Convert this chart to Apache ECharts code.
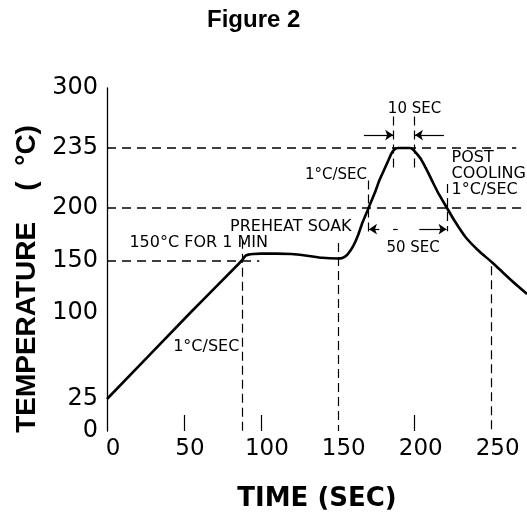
<!DOCTYPE html>
<html>
<head>
<meta charset="utf-8">
<script src="https://cdn.jsdelivr.net/npm/echarts@6/dist/echarts.min.js"></script>
<style>html,body{margin:0;padding:0;background:#fff;}#c{width:527px;height:525px;}</style>
</head>
<body>
<div id="c"></div>
<script>
// ---- data ----
const curveTime = [0, 54, 85, 88, 90, 92, 95, 100, 110, 120, 130, 140, 150, 153, 156, 158, 160, 163, 166, 170, 174, 177, 180, 183, 185, 187, 189, 197, 199, 201, 204, 208, 212, 216, 221, 226, 233, 241, 250, 257, 264, 273];
const curveTemp = [25, 100, 146.4, 151, 155, 156, 156.6, 157, 157, 156.6, 155, 153, 152.4, 152.8, 155.7, 159.4, 164, 173.6, 186, 200, 208.7, 216, 222, 228, 232, 234.3, 235, 235, 234, 232, 228.6, 222, 214.6, 207.6, 200, 187.7, 172.6, 160.4, 149, 139.4, 129.8, 118.3];
const yTickValues = [0, 25, 100, 150, 200, 235, 300];
const xTickValues = [0, 50, 100, 150, 200, 250];
const refTemps = [235, 200, 150];
const refTempEnds = [266, 273, 99];
const refTimes = [88, 150, 250];
const refTimeTops = [170, 167, 145];
const annoText = ['150°C FOR 1 MIN', '1°C/SEC', 'PREHEAT SOAK', '1°C/SEC', '10 SEC', '50 SEC', 'POST\nCOOLING\n1°C/SEC'];
const annoTime = [59.6, 64.5, 119.5, 148.8, 199.9, 199, 224];
const annoTemp = [167, 70.3, 182, 219, 277, 162, 219.8];

// non-linear temperature axis of the original figure: tick value -> axis position
const yTickPos = [0, 32, 118, 170, 223, 283, 343];
function toAxis(v) {
  for (let i = 1; i < yTickValues.length; i++) {
    if (v <= yTickValues[i]) {
      const a = yTickValues[i - 1], b = yTickValues[i];
      return yTickPos[i - 1] + (v - a) / (b - a) * (yTickPos[i] - yTickPos[i - 1]);
    }
  }
  return yTickPos[yTickPos.length - 1];
}

const dash = { type: [9, 6], width: 1.5, color: '#000' };
const vdash = { type: [9, 5], width: 1.2, color: '#000' };
const arrowStyle = { type: 'solid', width: 1.2, color: '#000' };

const markLines = [];
refTemps.forEach((v, i) => {
  markLines.push([{ coord: [0, toAxis(v)], lineStyle: dash }, { coord: [refTempEnds[i], toAxis(v)] }]);
});
refTimes.forEach((t, i) => {
  markLines.push([{ coord: [t, toAxis(refTimeTops[i])], lineStyle: vdash }, { coord: [t, 0] }]);
});
// short dashed markers for 50 SEC and 10 SEC spans
markLines.push([{ coord: [170, toAxis(216)], lineStyle: vdash }, { coord: [170, toAxis(176)] }]);
markLines.push([{ coord: [221, toAxis(214)], lineStyle: vdash }, { coord: [221, toAxis(178)] }]);
markLines.push([{ coord: [186.2, toAxis(269)], lineStyle: vdash }, { coord: [186.2, toAxis(223)] }]);
markLines.push([{ coord: [199.9, toAxis(269)], lineStyle: vdash }, { coord: [199.9, toAxis(223)] }]);
// arrows
markLines.push([{ coord: [167, toAxis(249)], lineStyle: arrowStyle, symbol: 'none' }, { coord: [186, toAxis(249)], symbol: 'arrow' }]);
markLines.push([{ coord: [219, toAxis(249)], lineStyle: arrowStyle, symbol: 'none' }, { coord: [200.2, toAxis(249)], symbol: 'arrow' }]);
markLines.push([{ coord: [177, toAxis(180)], lineStyle: arrowStyle, symbol: 'none' }, { coord: [170.3, toAxis(180)], symbol: 'arrow' }]);
markLines.push([{ coord: [186, toAxis(180)], lineStyle: arrowStyle, symbol: 'none' }, { coord: [189, toAxis(180)], symbol: 'none' }]);
markLines.push([{ coord: [203, toAxis(180)], lineStyle: arrowStyle, symbol: 'none' }, { coord: [220.7, toAxis(180)], symbol: 'arrow' }]);

const markPoints = annoText.map((txt, i) => ({
  coord: [annoTime[i], toAxis(annoTemp[i])],
  label: Object.assign({
    show: true, formatter: txt, position: 'inside', color: '#000',
    fontFamily: 'DejaVu Sans', fontSize: (i === 4 || i === 5 || i === 3) ? 15 : 16, lineHeight: 16
  }, i === 6 ? { align: 'left' } : {})
}));

const chart = echarts.init(document.getElementById('c'), null, { renderer: 'canvas' });
chart.setOption({
  animation: false,
  backgroundColor: '#fff',
  title: {
    text: 'Figure 2', left: 207, top: 8, padding: 0,
    textStyle: { fontFamily: 'Liberation Sans', fontWeight: 'bold', fontSize: 24, color: '#000' }
  },
  grid: { left: 107, right: 0, top: 88, bottom: 94 },
  xAxis: {
    type: 'value', min: 0, max: 273, interval: 50,
    name: 'TIME (SEC)', nameLocation: 'middle', nameGap: 55,
    nameTextStyle: { fontFamily: 'DejaVu Sans', fontWeight: 'bold', fontSize: 26, color: '#000' },
    axisLine: { show: false },
    axisTick: { show: true, inside: true, length: 16, customValues: [50, 100, 200], lineStyle: { color: '#000', width: 1.2 } },
    axisLabel: {
      customValues: xTickValues, fontFamily: 'DejaVu Sans', fontSize: 23, color: '#000', margin: 7,
      padding: [0, 0, 0, 12]
    },
    splitLine: { show: false }
  },
  yAxis: {
    type: 'value', min: 0, max: yTickPos[yTickPos.length - 1],
    name: 'TEMPERATURE    (  °C)     ', nameLocation: 'middle', nameRotate: 90, nameGap: 64,
    nameTextStyle: { fontFamily: 'Liberation Sans', fontWeight: 'bold', fontSize: 28, color: '#000' },
    axisLine: { show: true, lineStyle: { color: '#000', width: 1.3 } },
    axisTick: { show: false },
    axisLabel: {
      customValues: yTickPos, fontFamily: 'DejaVu Sans', fontSize: 24, color: '#000', margin: 9,
      formatter: (val) => { const k = yTickPos.indexOf(val); return k >= 0 ? String(yTickValues[k]) : ''; }
    },
    splitLine: { show: false }
  },
  series: [{
    type: 'line',
    data: curveTime.map((t, i) => [t, toAxis(curveTemp[i])]),
    showSymbol: false, smooth: 0.2,
    lineStyle: { color: '#000', width: 2.6, join: 'round' },
    z: 5,
    markLine: {
      silent: true, symbol: 'none', symbolSize: 8, label: { show: false },
      emphasis: { disabled: true },
      data: markLines
    },
    markPoint: {
      silent: true, symbol: 'circle', symbolSize: 1,
      itemStyle: { color: 'rgba(0,0,0,0)' },
      data: markPoints
    }
  }]
});
</script>
</body>
</html>
